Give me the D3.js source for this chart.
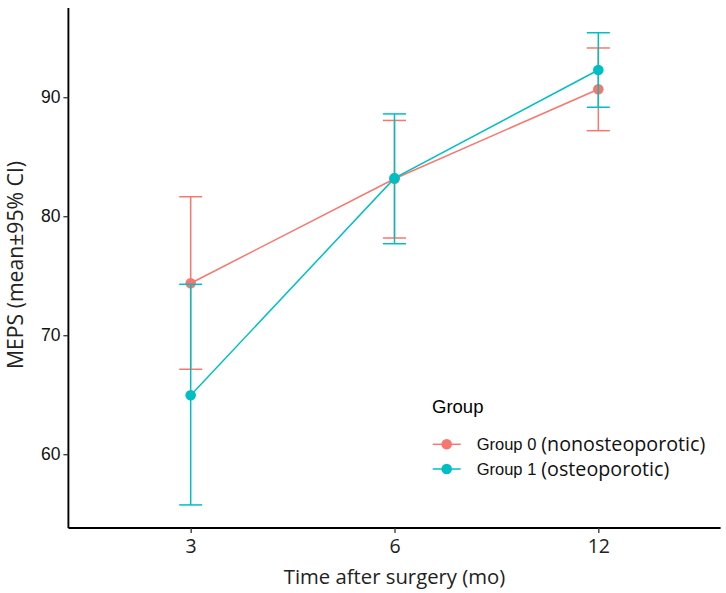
<!DOCTYPE html>
<html>
<head>
<meta charset="utf-8">
<script src="https://cdn.jsdelivr.net/npm/d3@7"></script>
<style>
  html, body { margin: 0; padding: 0; background: #fff; }
  svg { display: block; }
</style>
</head>
<body>
<div id="chart"></div>
<script>
const timepoints = ['3', '6', '12']
const groups = ['Group 0', 'Group 1']
const groupNotes = ['(nonosteoporotic)', '(osteoporotic)']
const group0Mean = [74.37, 83.15, 90.67]
const group0Lower = [67.14, 78.17, 87.19]
const group0Upper = [81.64, 88.05, 94.14]
const group1Mean = [64.95, 83.2, 92.29]
const group1Lower = [55.74, 77.69, 89.16]
const group1Upper = [74.28, 88.6, 95.42]
const yTicks = [60, 70, 80, 90]

const colors = ['#F8766D', '#00BFC4']

const width = 726
const height = 593
const margin = { top: 8, right: 5.4, bottom: 65, left: 68.4 }

const series = [
  { key: groups[0], note: groupNotes[0], color: colors[0], mean: group0Mean, lo: group0Lower, hi: group0Upper },
  { key: groups[1], note: groupNotes[1], color: colors[1], mean: group1Mean, lo: group1Lower, hi: group1Upper },
].map((s) => ({
  ...s,
  points: timepoints.map((t, i) => ({ t, mean: s.mean[i], lo: s.lo[i], hi: s.hi[i] })),
}))

const svg = d3.select('#chart').append('svg').attr('width', width).attr('height', height)

const x = d3.scalePoint().domain(timepoints).range([margin.left, width - margin.right]).padding(0.6)
const y = d3.scaleLinear().domain([53.8, 97.5]).range([height - margin.bottom, margin.top])

// series
const capHalf = 11.5
const line = d3.line().x((d) => x(d.t)).y((d) => y(d.mean))

series.forEach((s) => {
  const g = svg.append('g')
  g.append('path')
    .attr('d', line(s.points))
    .attr('fill', 'none')
    .attr('stroke', s.color)
    .attr('stroke-width', 1.5)

  const eb = g.selectAll('g.eb').data(s.points).join('g').attr('class', 'eb')
  eb.append('line')
    .attr('x1', (d) => x(d.t)).attr('x2', (d) => x(d.t))
    .attr('y1', (d) => y(d.lo)).attr('y2', (d) => y(d.hi))
    .attr('stroke', s.color).attr('stroke-width', 1.5)
  eb.append('line')
    .attr('x1', (d) => x(d.t) - capHalf).attr('x2', (d) => x(d.t) + capHalf)
    .attr('y1', (d) => y(d.lo)).attr('y2', (d) => y(d.lo))
    .attr('stroke', s.color).attr('stroke-width', 1.5)
  eb.append('line')
    .attr('x1', (d) => x(d.t) - capHalf).attr('x2', (d) => x(d.t) + capHalf)
    .attr('y1', (d) => y(d.hi)).attr('y2', (d) => y(d.hi))
    .attr('stroke', s.color).attr('stroke-width', 1.5)
  g.selectAll('circle').data(s.points).join('circle')
    .attr('cx', (d) => x(d.t)).attr('cy', (d) => y(d.mean))
    .attr('r', 5.3).attr('fill', s.color)
})

// axes
const yAxisG = svg.append('g')
  .attr('transform', `translate(${margin.left},0)`)
  .call(d3.axisLeft(y).tickValues(yTicks).tickSize(5).tickPadding(3))
yAxisG.select('.domain').attr('stroke', '#000').attr('stroke-width', 1.9)
  .attr('d', `M0,${margin.top}V${height - margin.bottom}`)
yAxisG.selectAll('.tick line').attr('stroke', '#333').attr('stroke-width', 1.3)
yAxisG.selectAll('.tick text')
  .attr('font-family', '"Liberation Sans", Arial, sans-serif')
  .attr('font-size', 17.5).attr('fill', '#111')

const xAxisG = svg.append('g')
  .attr('transform', `translate(0,${height - margin.bottom})`)
  .call(d3.axisBottom(x).tickSize(5).tickPadding(6))
xAxisG.select('.domain').attr('stroke', '#000').attr('stroke-width', 1.9)
  .attr('d', `M${margin.left},0H${width - margin.right}`)
xAxisG.selectAll('.tick line').attr('stroke', '#333').attr('stroke-width', 1.3)
xAxisG.selectAll('.tick text')
  .attr('font-family', '"Open Sans", sans-serif')
  .attr('font-size', 19.5).attr('fill', '#222')

// axis titles
svg.append('text')
  .attr('x', (margin.left + width - margin.right) / 2)
  .attr('y', 584)
  .attr('text-anchor', 'middle')
  .attr('font-family', '"Open Sans", sans-serif')
  .attr('font-size', 20.3)
  .attr('fill', '#222')
  .text('Time after surgery (mo)')

svg.append('text')
  .attr('transform', `translate(23,${(margin.top + height - margin.bottom) / 2 - 3}) rotate(-90)`)
  .attr('text-anchor', 'middle')
  .attr('font-family', '"Open Sans", sans-serif')
  .attr('font-size', 21.2)
  .attr('fill', '#222')
  .text('MEPS (mean±95% CI)')

// legend
const legend = svg.append('g').attr('transform', 'translate(432,0)')
legend.append('text')
  .attr('x', 0).attr('y', 413)
  .attr('font-family', '"Liberation Sans", Arial, sans-serif')
  .attr('font-size', 18.5)
  .attr('fill', '#000')
  .text('Group')

const keyY = [444.3, 469]
series.forEach((s, i) => {
  const k = legend.append('g').attr('transform', `translate(0,${keyY[i]})`)
  k.append('line').attr('x1', 0.7).attr('x2', 28.7).attr('y1', 0).attr('y2', 0)
    .attr('stroke', s.color).attr('stroke-width', 1.5)
  k.append('circle').attr('cx', 14.7).attr('cy', 0).attr('r', 5.3).attr('fill', s.color)
  const t = k.append('text').attr('x', 44.7).attr('y', 6).attr('fill', '#111')
  t.append('tspan')
    .attr('font-family', '"Liberation Sans", Arial, sans-serif')
    .attr('font-size', 16.5)
    .text(s.key)
  t.append('tspan')
    .attr('dx', 5)
    .attr('y', 7)
    .attr('font-family', '"Open Sans", sans-serif')
    .attr('font-size', 19.7)
    .text(s.note)
})
</script>
</body>
</html>
